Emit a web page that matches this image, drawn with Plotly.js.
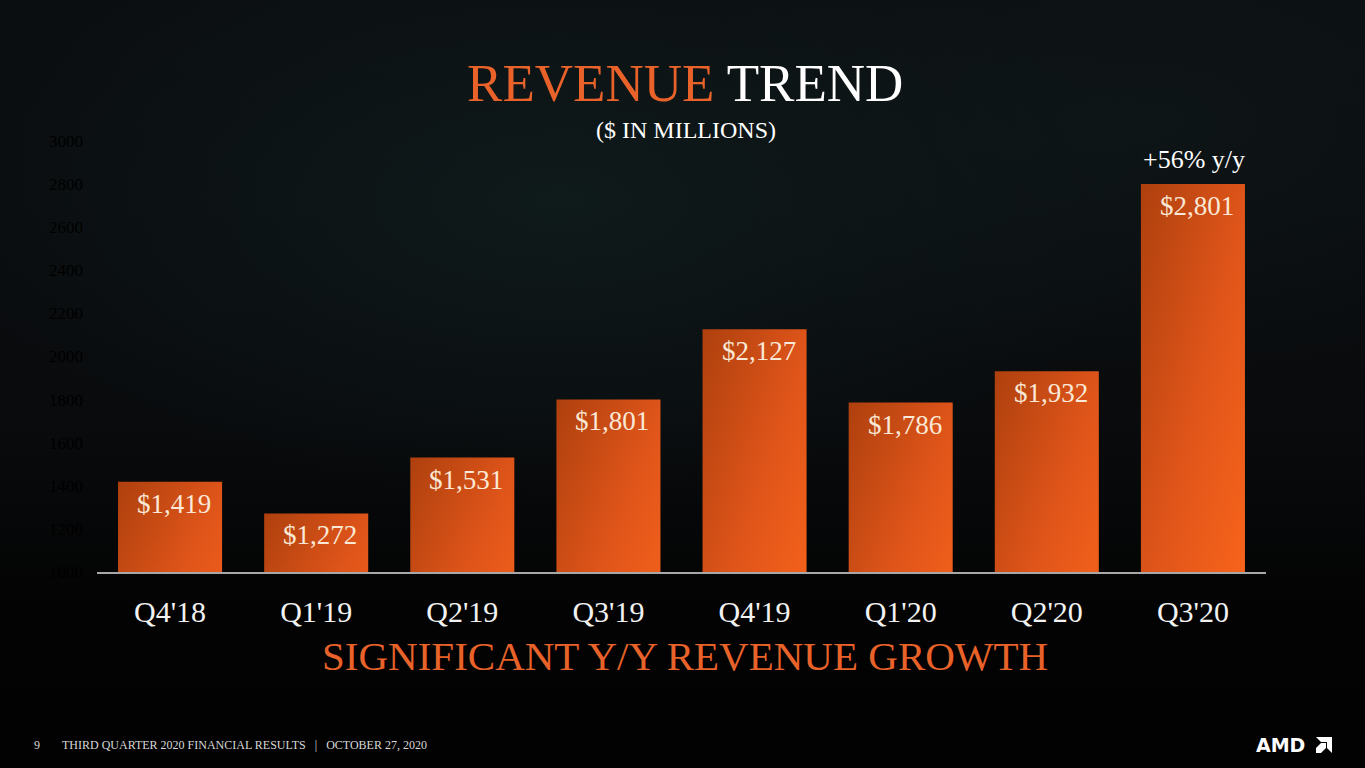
<!DOCTYPE html>
<html>
<head>
<meta charset="utf-8">
<script src="https://cdn.plot.ly/plotly-3.0.1.min.js"></script>
<style>
html,body{margin:0;padding:0;width:1365px;height:768px;overflow:hidden;
background:
 radial-gradient(ellipse 620px 300px at 560px 200px, #0f1a1b 0%, rgba(15,26,27,0.0) 100%),
 radial-gradient(ellipse 500px 260px at 1150px 120px, #0e1517 0%, rgba(14,21,23,0) 100%),
 linear-gradient(to bottom, #0b0e11 0%, #090b0d 55%, #030303 80%, #020202 100%);}
#chart{width:1365px;height:768px;}
</style>
</head>
<body>
<div id="chart"></div>
<script>
const quarters = ["Q4'18","Q1'19","Q2'19","Q3'19","Q4'19","Q1'20","Q2'20","Q3'20"];
const revenue = [1419, 1272, 1531, 1801, 2127, 1786, 1932, 2801];
const valueLabels = ["$1,419","$1,272","$1,531","$1,801","$2,127","$1,786","$1,932","$2,801"];
const yTicks = [1000,1200,1400,1600,1800,2000,2200,2400,2600,2800,3000];
const growthLabel = "+56% y/y";

const SERIF = "Liberation Serif, Times New Roman, serif";
const ORANGE = "#e8622a";

const trace = {
  type: 'bar',
  x: quarters,
  y: revenue,
  marker: {color: '#e0561a', line: {width: 0}},
  hoverinfo: 'none'
};

const annotations = quarters.map((q, i) => ({
  x: q, y: revenue[i], xref: 'x', yref: 'y',
  text: valueLabels[i], showarrow: false,
  yanchor: 'top', xanchor: 'center', yshift: -5, xshift: 4,
  font: {family: SERIF, size: 27, color: '#fbe8d6'}
}));
annotations.push({
  x: quarters[quarters.length-1], y: revenue[revenue.length-1], xref:'x', yref:'y',
  text: growthLabel, showarrow:false, yanchor:'bottom', xanchor:'center', yshift: 8, xshift: 1,
  font:{family: SERIF, size: 26, color:'#ffffff'}
});
annotations.push({
  x: 0.5035, y: 1.0255, xref:'paper', yref:'paper', text: '($ IN MILLIONS)', showarrow:false,
  xanchor:'center', yanchor:'middle', font:{family:SERIF, size:24, color:'#ffffff'}
});
annotations.push({
  x: 0.503, y: -0.195, xref:'paper', yref:'paper', text: 'SIGNIFICANT Y/Y REVENUE GROWTH', showarrow:false,
  xanchor:'center', yanchor:'middle', font:{family:SERIF, size:41, color:ORANGE}
});
annotations.push({
  x: -0.0513, y: -0.401, xref:'paper', yref:'paper', text: '9', showarrow:false,
  xanchor:'center', yanchor:'middle', font:{family:SERIF, size:12, color:'#d8d8d8'}
});
annotations.push({
  x: -0.0317, y: -0.401, xref:'paper', yref:'paper',
  text: 'THIRD QUARTER 2020 FINANCIAL RESULTS&nbsp;&nbsp;&nbsp;|&nbsp;&nbsp;&nbsp;OCTOBER 27, 2020', showarrow:false,
  xanchor:'left', yanchor:'middle', font:{family:SERIF, size:12, color:'#d8d8d8'}
});
annotations.push({
  x: 0.9897, y: -0.401, xref:'paper', yref:'paper', text: '<b>AMD</b>', showarrow:false,
  xanchor:'left', yanchor:'middle', font:{family:'DejaVu Sans, sans-serif', size:19, color:'#ffffff'}
});

function px(x){ return ((x-97)/1169).toFixed(5); }
function py(y){ return ((572-y)/431).toFixed(5); }
function poly(pts){ return 'M' + pts.map(p => px(p[0]) + ',' + py(p[1])).join(' L') + ' Z'; }

const shapes = [
  {type:'path', xref:'paper', yref:'paper', fillcolor:'#ffffff', line:{width:0},
   path: poly([[1316,737],[1332,737],[1332,753],[1327,748],[1327,742],[1321,742]])},
  {type:'path', xref:'paper', yref:'paper', fillcolor:'#ffffff', line:{width:0},
   path: poly([[1321,743],[1326,743],[1326,748],[1321,753],[1316,753],[1316,748]])}
];

const layout = {
  width: 1365, height: 768,
  margin: {l: 97, r: 99, t: 141, b: 196},
  paper_bgcolor: 'rgba(0,0,0,0)',
  plot_bgcolor: 'rgba(0,0,0,0)',
  bargap: 0.288,
  showlegend: false,
  title: {
    text: '<span style="color:' + ORANGE + '">REVENUE</span> TREND',
    x: 0.502, xref: 'container', xanchor: 'center',
    y: 0.892, yref: 'container', yanchor: 'middle',
    font: {family: SERIF, size: 53, color: '#ffffff'}
  },
  xaxis: {
    type: 'category',
    showline: true, linecolor: '#a8a8a8', linewidth: 1.5,
    showgrid: false, zeroline: false, ticks: '',
    tickfont: {family: SERIF, size: 30, color: '#f2f2f2'},
    ticklabelstandoff: 12
  },
  yaxis: {
    range: [1000, 3000],
    tickvals: yTicks, ticktext: yTicks.map(String),
    showgrid: false, zeroline: false, showline: false, ticks: '',
    tickfont: {family: SERIF, size: 17, color: '#000000'},
    ticklabelstandoff: 13
  },
  annotations: annotations,
  shapes: shapes
};

Plotly.newPlot('chart', [trace], layout, {staticPlot: true, displayModeBar: false}).then(function(gd){
  const svg = gd.querySelector('svg.main-svg');
  const ns = 'http://www.w3.org/2000/svg';
  let defs = svg.querySelector('defs');
  if (!defs) { defs = document.createElementNS(ns, 'defs'); svg.insertBefore(defs, svg.firstChild); }
  const g = document.createElementNS(ns, 'linearGradient');
  g.setAttribute('id', 'barGrad');
  g.setAttribute('x1', '0'); g.setAttribute('y1', '0');
  g.setAttribute('x2', '0.7'); g.setAttribute('y2', '1');
  [['0', '#ae400e'], ['0.5', '#e0551a'], ['1', '#fd671b']].forEach(function(s){
    const st = document.createElementNS(ns, 'stop');
    st.setAttribute('offset', s[0]); st.setAttribute('stop-color', s[1]);
    g.appendChild(st);
  });
  defs.appendChild(g);
  gd.querySelectorAll('.bars path').forEach(function(p){
    p.style.fill = 'url(#barGrad)';
  });
});
</script>
</body>
</html>
